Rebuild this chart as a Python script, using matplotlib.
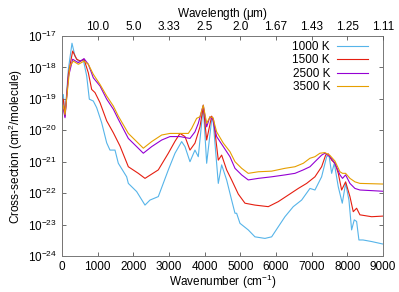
import numpy as np
import matplotlib
matplotlib.use("Agg")
import matplotlib.pyplot as plt
from matplotlib.ticker import LogLocator, FixedLocator, NullLocator

plt.rcParams['font.family'] = ['Liberation Sans', 'DejaVu Sans']
plt.rcParams['mathtext.fontset'] = 'custom'
plt.rcParams['mathtext.rm'] = 'Liberation Sans'
plt.rcParams['mathtext.it'] = 'Liberation Sans:italic'
plt.rcParams['mathtext.default'] = 'regular'

labels = ["1000 K", "1500 K", "2500 K", "3500 K"]
colors = ["#56b4e9", "#e51e10", "#9400d3", "#e69f00"]

# wavenumber (cm^-1) and log10(cross-section)
wn_1000 = [0, 10, 37, 84, 178, 280, 364, 458, 598, 692, 766, 878, 972, 1112, 1253, 1345, 1486, 1579,
           1813, 1860, 2093, 2327, 2467, 2700, 2981, 3168, 3355, 3448, 3588, 3728, 3821, 3961, 4056,
           4196, 4230, 4382, 4476, 4616, 4756, 4850, 4896, 4990, 5222, 5410, 5690, 5878, 6064, 6251,
           6484, 6719, 6952, 7092, 7279, 7420, 7485, 7560, 7634, 7746, 7858, 7952, 8045, 8120, 8194,
           8260, 8325, 8440, 8681, 9000]
lg_1000 = [-24.5, -18.9, -18.86, -19.55, -18.06, -17.23, -17.64, -17.8, -17.76, -18.27, -19.01, -19.07,
           -19.28, -19.76, -20.4, -20.63, -20.63, -21.05, -21.48, -21.69, -21.95, -22.38, -22.22, -22.11,
           -21.26, -20.73, -20.36, -20.52, -21.0, -20.63, -20.84, -19.25, -21.05, -19.67, -19.6, -21.69,
           -21.1, -21.58, -22.22, -22.64, -22.64, -22.96, -23.17, -23.39, -23.44, -23.39, -23.07, -22.75,
           -22.43, -22.22, -21.85, -21.9, -21.48, -20.84, -20.79, -21.37, -21.05, -21.8, -22.32, -21.69,
           -22.22, -23.17, -22.85, -22.9, -23.49, -23.49, -23.54, -23.62]

wn_1500 = [0, 10, 37, 84, 180, 299, 411, 523, 617, 738, 832, 925, 1065, 1253, 1440, 1626, 1860, 2140,
           2327, 2700, 2981, 3168, 3308, 3448, 3588, 3728, 3868, 3961, 4056, 4196, 4250, 4382, 4476,
           4616, 4756, 4943, 5130, 5410, 5784, 6064, 6345, 6625, 6859, 7092, 7279, 7392, 7466, 7560,
           7653, 7746, 7840, 7952, 8073, 8166, 8260, 8353, 8681, 9000]
lg_1500 = [-24.5, -19.0, -19.01, -19.55, -18.2, -17.48, -17.74, -17.8, -17.74, -18.17, -18.7, -18.8,
           -19.12, -19.7, -20.08, -20.5, -21.16, -21.37, -21.53, -21.26, -20.73, -20.35, -20.1, -20.2,
           -20.63, -20.41, -19.89, -19.25, -20.31, -19.55, -19.67, -20.95, -20.79, -21.26, -21.58, -22.03,
           -22.32, -22.38, -22.43, -22.27, -22.06, -21.85, -21.69, -21.48, -21.16, -20.79, -20.75, -20.95,
           -21.05, -21.37, -21.9, -21.64, -22.11, -22.59, -22.48, -22.69, -22.75, -22.73]

wn_2500 = [0, 10, 37, 84, 180, 299, 458, 617, 738, 878, 1065, 1253, 1440, 1579, 1860, 2093, 2280,
           2514, 2795, 3027, 3308, 3588, 3728, 3821, 3961, 4056, 4149, 4230, 4336, 4523, 4709, 4850,
           5037, 5222, 5503, 5878, 6251, 6532, 6765, 6952, 7092, 7279, 7372, 7513, 7653, 7793, 7865,
           7952, 8073, 8213, 8353, 8681, 9000]
lg_2500 = [-24.5, -19.3, -19.33, -19.6, -18.3, -17.74, -17.85, -17.72, -17.9, -18.33, -18.59, -19.01,
           -19.33, -19.65, -20.26, -20.52, -20.73, -20.52, -20.31, -20.2, -20.2, -20.26, -20.05, -19.78,
           -19.2, -19.89, -19.57, -19.67, -20.2, -20.52, -20.84, -21.21, -21.42, -21.58, -21.53, -21.48,
           -21.42, -21.37, -21.26, -21.16, -21.0, -20.79, -20.73, -20.84, -21.05, -21.42, -21.53, -21.42,
           -21.69, -21.85, -21.9, -21.92, -21.94]

wn_3500 = [0, 10, 37, 84, 224, 318, 458, 617, 738, 878, 1065, 1253, 1440, 1579, 1860, 2093, 2280,
           2514, 2795, 3027, 3308, 3541, 3635, 3775, 3868, 3961, 4056, 4149, 4230, 4336, 4523, 4709,
           4850, 5037, 5222, 5503, 5878, 6251, 6532, 6765, 6952, 7092, 7232, 7372, 7513, 7653, 7793,
           7865, 7952, 8073, 8213, 8353, 9000]
lg_3500 = [-24.5, -19.2, -19.22, -19.5, -17.95, -17.8, -17.9, -17.8, -17.9, -18.22, -18.54, -18.91,
           -19.23, -19.55, -20.1, -20.36, -20.57, -20.36, -20.15, -20.1, -20.1, -20.1, -19.94, -19.62,
           -19.57, -19.2, -19.78, -19.57, -19.6, -20.05, -20.41, -20.68, -21.0, -21.21, -21.37, -21.32,
           -21.3, -21.21, -21.16, -21.05, -20.89, -20.84, -20.73, -20.71, -20.8, -20.98, -21.32, -21.37,
           -21.37, -21.53, -21.64, -21.69, -21.71]

series_wn = [wn_1000, wn_1500, wn_2500, wn_3500]
series_lg = [lg_1000, lg_1500, lg_2500, lg_3500]

top_ticks_wn = [1000, 2000, 3000, 4000, 5000, 6000, 7000, 8000, 9000]
top_tick_labels = ["10.0", "5.0", "3.33", "2.5", "2.0", "1.67", "1.43", "1.25", "1.11"]

fig = plt.figure(figsize=(3.99, 2.92), dpi=100)
ax = fig.add_axes([62/399, 1 - 256/292, 321/399, 220/292])

for w, l, c, lab in zip(series_wn, series_lg, colors, labels):
    ax.plot(w, 10.0 ** np.array(l), color=c, lw=0.8, label=lab)

ax.set_yscale('log')
ax.set_xlim(0, 9000)
ax.set_ylim(1e-24, 1e-17)
ax.yaxis.set_major_locator(LogLocator(base=10, numticks=10))
ax.yaxis.set_minor_locator(NullLocator())
ax.set_xticks(np.arange(0, 9001, 1000))

fs = 8.5
ax.tick_params(direction='in', labelsize=fs, length=3, width=0.6, color='#555555',
               right=True, which='both')
for s in ax.spines.values():
    s.set_color('#777777')
    s.set_linewidth(0.7)

ax.set_xlabel("Wavenumber (cm$^{-1}$)", fontsize=fs, va='center')
ax.xaxis.set_label_coords(0.5, -0.118)
ax.set_ylabel("Cross-section (cm$^{2}$/molecule)", fontsize=fs, labelpad=2)

axt = ax.twiny()
axt.set_xlim(ax.get_xlim())
axt.xaxis.set_major_locator(FixedLocator(top_ticks_wn))
axt.set_xticklabels(top_tick_labels)
axt.tick_params(direction='in', labelsize=fs, length=3, width=0.6, color='#555555', pad=2)
axt.set_xlabel("Wavelength ($\\mu$m)", fontsize=fs, labelpad=3)
axt.yaxis.set_visible(False)
axt.xaxis.get_offset_text().set_visible(False)
ax.xaxis.get_offset_text().set_visible(False)
ax.yaxis.get_offset_text().set_visible(False)
for s in axt.spines.values():
    s.set_visible(False)

leg = ax.legend(loc='upper right', frameon=False, fontsize=fs, markerfirst=False,
                handlelength=2.6, handletextpad=0.6, labelspacing=0.12,
                bbox_to_anchor=(0.975, 1.01), borderaxespad=0.2)

fig.savefig("out.png", dpi=100)
